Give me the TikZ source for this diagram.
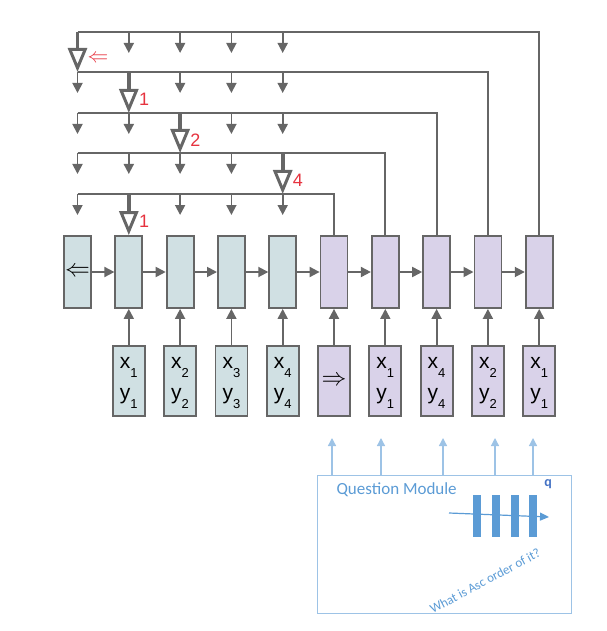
\documentclass[tikz,border=0pt]{standalone}
\usepackage{fontspec}
\setmainfont{Liberation Sans}
\newfontfamily\calibri{Carlito}
\usetikzlibrary{arrows.meta}
\definecolor{linegrey}{HTML}{666666}
\definecolor{encfill}{HTML}{D0E0E3}
\definecolor{decfill}{HTML}{D9D2E9}
\definecolor{ptrred}{HTML}{E6333F}
\definecolor{qblue}{HTML}{5B9BD5}
\definecolor{qline}{HTML}{9DC3E6}
\definecolor{qdark}{HTML}{4472C4}
\newcommand{\lowidx}[1]{\raisebox{-9pt}[0pt][0pt]{\fontsize{13}{13}\selectfont #1}}

\begin{document}
\begin{tikzpicture}[x=1pt, y=-1pt,
    cell/.style={draw=linegrey, line width=1.8pt, minimum width=27pt, minimum height=72pt, inner sep=0pt},
    token/.style={draw=linegrey, line width=1.8pt, minimum width=32pt, minimum height=70pt, inner sep=0pt, align=center, font=\fontsize{21}{31}\selectfont},
    flow/.style={draw=linegrey, line width=1.8pt, -{Triangle[length=10pt, width=10pt]}},
    wire/.style={draw=linegrey, line width=1.8pt},
    pointer/.style={draw=linegrey, line width=3.8pt, -{Triangle[open, length=24pt, width=19pt, line width=3pt]}},
    ptrlabel/.style={text=ptrred, font=\fontsize{18}{18}\selectfont, anchor=west, inner sep=0pt},
    qflow/.style={draw=qline, line width=1.3pt, -{Triangle[length=8pt, width=8pt]}},
    qbar/.style={fill=qblue, minimum width=8pt, minimum height=42pt, inner sep=0pt}]
    \useasboundingbox (0,0) rectangle (606,631);
    \node [cell, fill=encfill] (h0) at (77.5,272) {\fontsize{28}{28}\selectfont$\Leftarrow$};
    \foreach \i in {1,...,4} \node [cell, fill=encfill] (h\i) at ({77.5+51.3*\i},272) {};
    \foreach \i in {5,...,9} \node [cell, fill=decfill] (h\i) at ({77.5+51.3*\i},272) {};
    \foreach \i/\a in {1/1, 2/2, 3/3, 4/4} \node [token, fill=encfill] (in\i) at ({77.5+51.3*\i},381) {x\lowidx{\a}\\y\lowidx{\a}};
    \node [token, fill=decfill] (in5) at (334,381) {\fontsize{28}{28}\selectfont$\Rightarrow$};
    \foreach \i/\a in {6/1, 7/4, 8/2, 9/1} \node [token, fill=decfill] (in\i) at ({77.5+51.3*\i},381) {x\lowidx{\a}\\y\lowidx{\a}};
    \foreach \i in {1,...,9} \draw [flow] (in\i) -- (h\i);
    \foreach \i [count=\j from 1] in {0,...,8} \draw [flow] (h\i) -- (h\j);
    \foreach \k/\y in {1/32, 2/72, 3/113, 4/153, 5/194} \coordinate (r\k) at (77.5,\y);
    \coordinate (r6) at (h0.north);
    \foreach \k/\t/\p/\lab/\n in {1/9/0/{\fontsize{22}{22}\selectfont$\Leftarrow$}/2, 2/8/1/1/3, 3/7/2/2/4, 4/6/4/4/5, 5/5/1/1/6} {
        \draw [wire] (r\k) -| (h\t.north);
        \foreach \c in {0,...,4} {\ifnum\c=\p\else \draw [flow] (r\k -| h\c) -- ++(0,21); \fi}
        \draw [pointer] (r\k -| h\p) -- (r\n -| h\p);
        \path (r\k -| h\p) ++(10,27) node [ptrlabel] (lbl\k) {\lab};
    }
    \node [draw=qline, line width=1.2pt, minimum width=254pt, minimum height=138pt, anchor=north west, inner sep=0pt] (qm) at (317,475) {};
    \foreach \x [count=\i] in {332,381,443,495,533} {
        \coordinate (qa\i) at (\x,438);
        \draw [qflow] (qa\i |- qm.north) -- (qa\i);
    }
    \node [anchor=west, text=qblue, font=\calibri\fontsize{17}{17}\selectfont] (qtitle) at (333,490) {Question Module};
    \node [text=qdark, font=\calibri\bfseries\fontsize{14}{14}\selectfont] (qsym) at (548,484) {q};
    \foreach \i in {0,...,3} \node [qbar] (bar\i) at ({477+18.8*\i},516) {};
    \coordinate (qin) at (449,513);
    \coordinate (qout) at (549,517);
    \draw [draw=qblue, line width=1.2pt, -{Triangle[length=9pt, width=8pt]}] (qin) -- (qout);
    \node [rotate=28, text=qblue, font=\calibri\fontsize{13}{13}\selectfont] (qtext) at (485,581) {What is Asc order of it?};
\end{tikzpicture}
\end{document}
